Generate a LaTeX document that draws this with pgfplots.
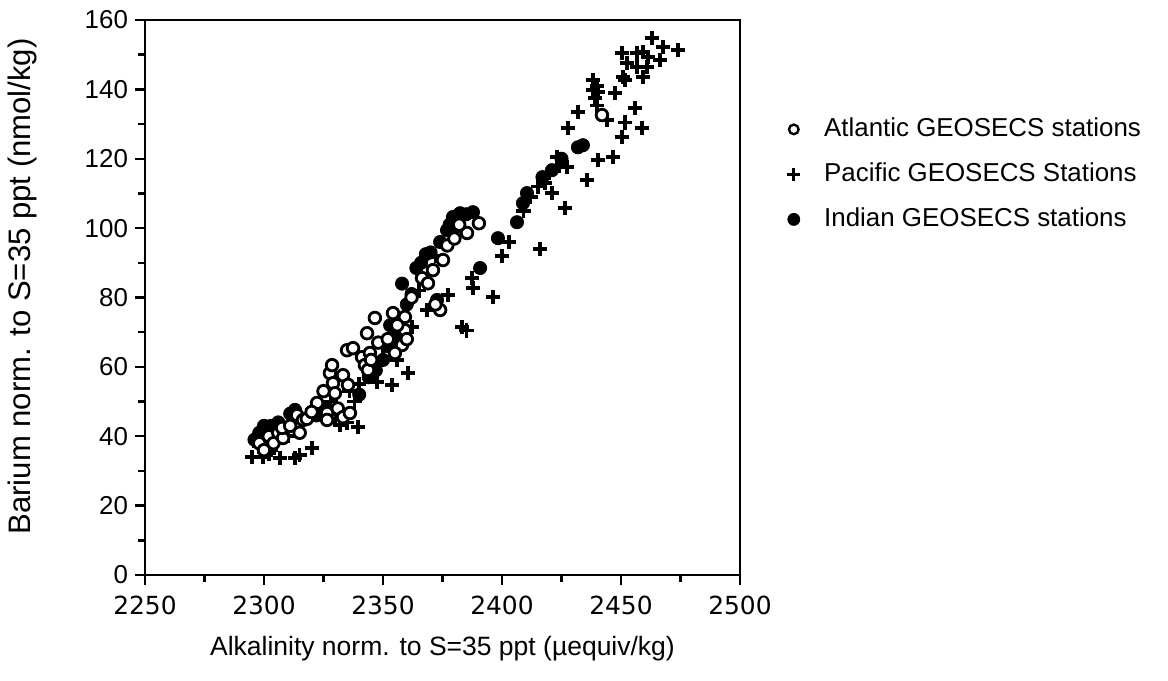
\documentclass[border=0pt]{standalone}
\usepackage{fontspec}
\setmainfont{Liberation Sans}
\newfontfamily\djv{DejaVu Sans}
\usepackage{pgfplots}
\pgfplotsset{compat=1.18}
\begin{document}
\begin{tikzpicture}
\begin{axis}[name=ax,
  width=297.5bp, height=277.5bp, scale only axis,
  xmin=2250, xmax=2500, ymin=0, ymax=160,
  xtick={2250,2300,...,2500}, ytick={0,20,...,160},
  minor x tick num=1, minor y tick num=1,
  tick pos=left, tick align=outside,
  major tick length=5bp, minor tick length=3.5bp,
  axis line style={line width=1.4bp},
  every tick/.style={line width=1.2bp, black},
  /pgf/number format/assume math mode=true,
  /pgf/number format/1000 sep={},
  xticklabel style={font=\djv\fontsize{12.5}{14}\selectfont, yshift=-2bp},
  yticklabel style={font=\fontsize{13}{15}\selectfont},
  xlabel={Alkalinity norm. to S=35 ppt (µequiv/kg)},
  ylabel={Barium norm. to S=35 ppt (nmol/kg)},
  xlabel style={font=\fontsize{13.3}{15}\selectfont, at={(axis description cs:0.5,-0.1325)}, anchor=center},
  ylabel style={font=\fontsize{15.6}{17}\selectfont, at={(axis description cs:-0.2067,0.52)}, anchor=center},
  legend image code/.code={\draw[#1] plot coordinates {(0bp,0bp)};},
  legend cell align=left,
  legend style={at={(1,1)}, anchor=north west, xshift=23.5bp, yshift=-48.5bp,
    draw=none, fill=none, inner sep=0pt, row sep=10.5bp, column sep=0pt,
    font=\fontsize{13}{15}\selectfont,
    nodes={inner sep=0pt, text height=9.5bp, text depth=2.5bp},
    /tikz/every odd column/.append style={column sep=12bp}},
]
\addlegendimage{only marks, mark=*, mark size=2.4bp, mark options={fill=white, draw=black, line width=1.2bp}}
\addlegendentry{Atlantic GEOSECS stations}
\addlegendimage{only marks, mark=+, mark size=3.2bp, mark options={line width=1.5bp, black}}
\addlegendentry{Pacific GEOSECS Stations}
\addlegendimage{only marks, mark=*, mark size=3bp, mark options={fill=black, draw=black}}
\addlegendentry{Indian GEOSECS stations}

% Indian
\addplot[forget plot, only marks, mark=*, mark size=3.3bp, mark options={fill=black, draw=black}] coordinates {
(2296,39) (2298,41) (2301,42) (2303,43) (2306,44) (2299,40) (2304,41) (2300,43)
(2311,46.5) (2313,47.6) (2322,46) (2326,48)
(2340,52) (2344,57) (2347,59) (2350,62) (2352,66) (2355,70) (2357,74) (2360,78) (2362,81)
(2358,84) (2364,88.5) (2368,92.5) (2370,93) (2376.9,99.4) (2379.4,103.2) (2382.4,104.3)
(2385,104) (2387.8,104.6) (2372.7,79.3) (2390.8,88.5) (2398.3,97.1) (2406.3,101.7)
(2408.8,107.2) (2410.5,110.1) (2417,114.7) (2421,116.7) (2425,120) (2431.9,123.3) (2434,123.9)
(2378,101) (2374,96) (2366,90) (2353,72) (2356,68)
};
% Pacific
\addplot[forget plot, only marks, mark=+, mark size=3.6bp, mark options={line width=1.8bp, black}] coordinates {
(2295,34) (2299.6,34) (2303,36) (2306.7,33.7) (2313,33.7) (2315,34.6) (2320.2,36.6)
(2332,43.2) (2339.5,42.7) (2335,44) (2330,45) (2328,50) (2338,50) (2336,53)
(2347.5,55.6) (2353.8,54.8) (2360.5,58.2) (2356,62) (2362.2,71.5) (2368.5,76.4)
(2377.3,80.7) (2383.2,71.5) (2385,70.5) (2387.4,85.6) (2387.8,82.7) (2396.2,80.1)
(2400,92) (2403,96) (2416,94) (2409,105) (2412,109) (2415,112) (2421,110.1) (2426.5,105.8)
(2427.3,117.6) (2423.1,120.5) (2435.7,113.8) (2440.3,119.6) (2446.6,120.5) (2450.4,126.2)
(2451.7,130.5) (2458.8,128.8) (2455.9,134.6) (2427.7,128.8) (2431.9,133.4) (2444.1,131.1)
(2439.9,135.4) (2439.1,137.5) (2438.2,139.8) (2440.3,139.2) (2447.5,138.9) (2438.2,142.7)
(2440,141) (2450.8,143.5) (2451.7,142.7) (2459.2,143.5) (2452.5,147.6) (2456.7,146.4)
(2460.9,146.4) (2450.4,150.4) (2456.7,150.4) (2459.2,150.7) (2461.3,149.3) (2466.4,148.4)
(2463,154.8) (2467.6,152.2) (2474,151.3) (2418,113) (2420,116) (2424,118) (2380,99)
(2372,92) (2365,82) (2350,66) (2345,57) (2340,55) (2325,48) (2318,46) (2310,40) (2302,35) (2298,37)
};
% Atlantic
\addplot[forget plot, only marks, mark=*, mark size=2.9bp, mark options={fill=white, draw=black, line width=1.4bp}] coordinates {
(2298,38) (2300,36) (2302,40) (2304,38) (2306,41) (2308,39.5) (2307.6,42.4) (2311,43)
(2313.9,46.1) (2316.4,44.7) (2318,45) (2322.3,49.6) (2325,53) (2326.5,46.7) (2326.5,44.7)
(2327.7,58.2) (2328.6,60.5) (2329,55.3) (2329.8,52.4) (2331,48) (2333.2,57.6) (2333.2,45.5)
(2335.3,54.8) (2336.1,46.7) (2334.9,64.8) (2337.4,65.4) (2341.2,62.8) (2342.4,60.5)
(2343.7,59.1) (2344.5,64) (2343.3,69.7) (2346.6,74.1) (2348,67) (2354.2,75.5) (2359.2,74.4)
(2359.2,70.6) (2358,66.3) (2355,64) (2366.4,85.6) (2368.9,84.1) (2371,87.9) (2374,76.4)
(2372,78) (2375.2,90.8) (2377,95) (2380,97) (2385.3,98.6) (2390.3,101.4) (2382,101)
(2362,80) (2356,72) (2352,68) (2360,68) (2345,62) (2320,47) (2315,41) (2442,132.6)
};
\end{axis}
\pgfresetboundingbox
\path[use as bounding box] ([shift={(-72.5bp,-53bp)}]ax.south west) rectangle ([shift={(214bp,10bp)}]ax.north east);
\end{tikzpicture}
\end{document}
